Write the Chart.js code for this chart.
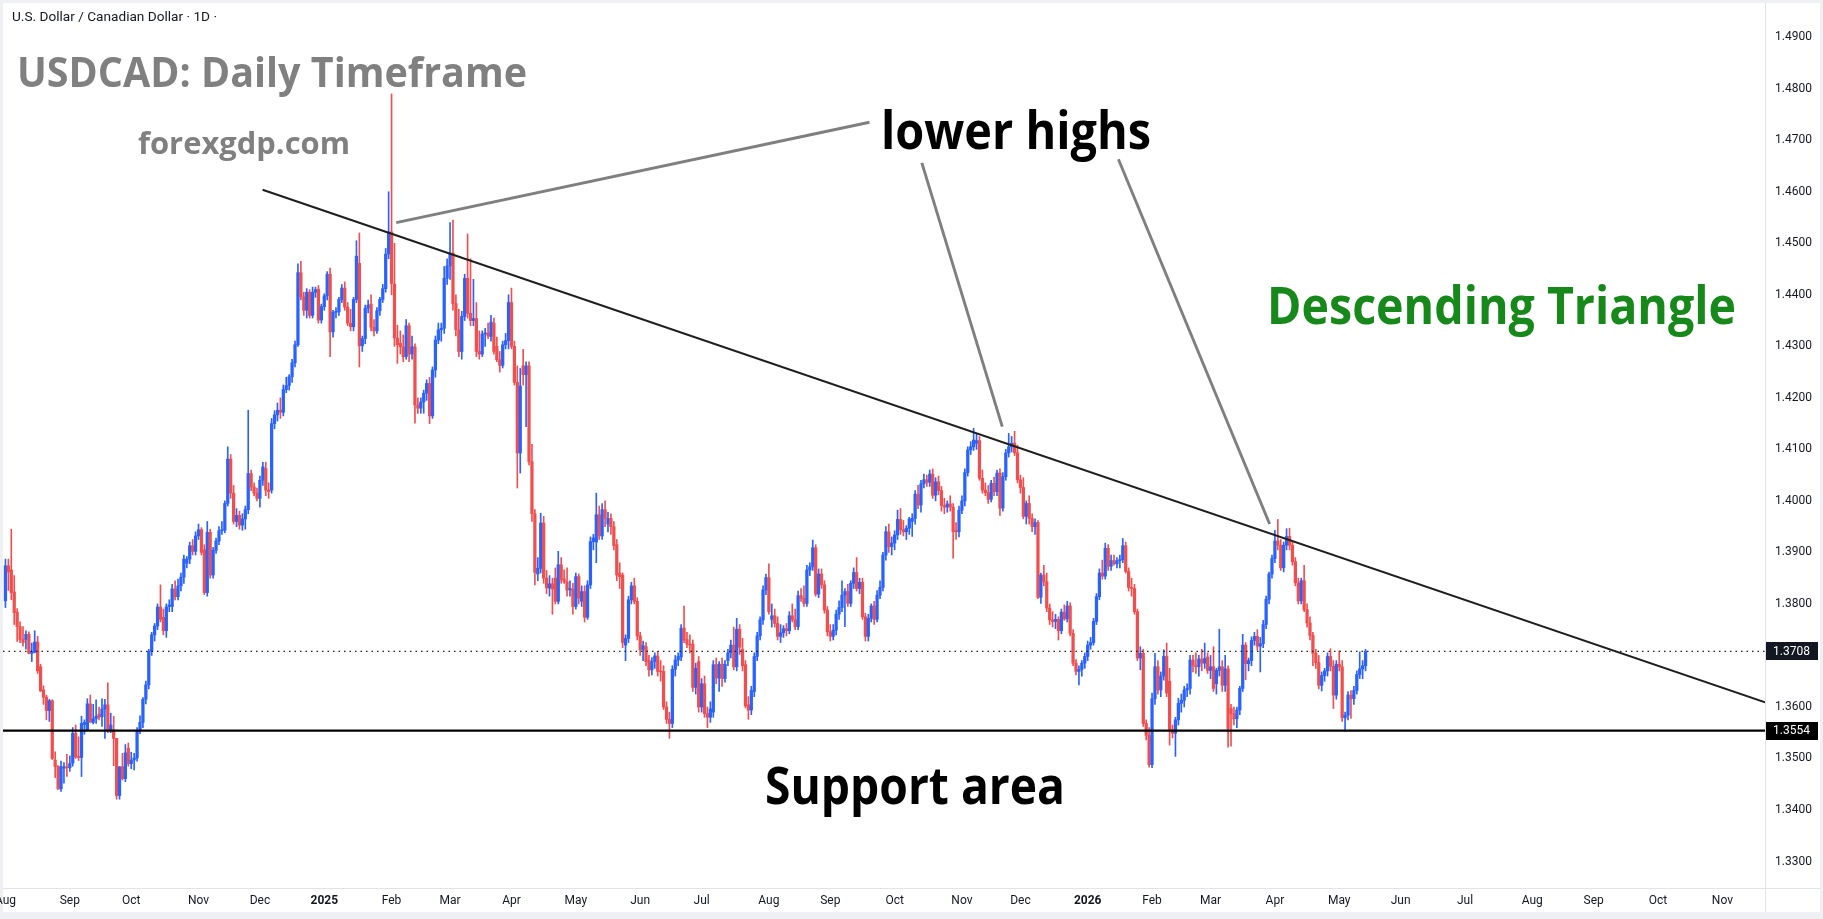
<!DOCTYPE html>
<html><head><meta charset="utf-8">
<script src="https://cdn.jsdelivr.net/npm/chart.js@4.4.1/dist/chart.umd.min.js"></script>
<style>html,body{margin:0;padding:0;background:#fff;overflow:hidden}#wrap{width:1823px;height:919px;position:relative}canvas{display:block}</style>
</head><body><div id="wrap"><canvas id="c" width="1823" height="919"></canvas></div>
<script>
// Daily candles [open, high, low, close] in pips: 3806 means 1.3806
const aug24 = [[3806,3887,3793,3874],[3874,3887,3826,3862],[3866,3945,3808,3822],[3823,3855,3760,3783],[3784,3791,3727,3756],[3756,3765,3725,3731],[3731,3756,3718,3725],[3731,3748,3712,3741],[3741,3746,3703,3704],[3704,3724,3688,3708],[3706,3748,3705,3726],[3726,3737,3665,3670],[3678,3683,3630,3631],[3633,3641,3605,3619],[3619,3623,3575,3593],[3593,3615,3572,3612],[3612,3614,3498,3500],[3497,3513,3463,3484],[3485,3486,3440,3441],[3441,3495,3436,3484],[3481,3492,3452,3484],[3484,3508,3465,3482]];
const sep24 = [[3482,3505,3475,3490],[3491,3560,3485,3549],[3549,3565,3500,3503],[3503,3542,3496,3502],[3502,3582,3465,3568],[3566,3575,3547,3570],[3555,3616,3555,3606],[3606,3623,3572,3570],[3570,3605,3567,3577],[3577,3614,3568,3582],[3586,3600,3575,3580],[3581,3616,3562,3596],[3596,3615,3539,3604],[3604,3647,3550,3555],[3555,3588,3550,3565],[3555,3582,3486,3539],[3539,3539,3421,3428],[3428,3484,3421,3484],[3484,3510,3458,3461],[3461,3527,3455,3511],[3520,3530,3485,3490]];
const oct24 = [[3490,3512,3480,3497],[3497,3510,3478,3501],[3501,3560,3495,3554],[3554,3583,3548,3570],[3570,3618,3560,3615],[3615,3650,3606,3643],[3643,3712,3635,3708],[3708,3745,3700,3740],[3740,3762,3728,3757],[3757,3800,3750,3794],[3794,3837,3765,3770],[3774,3790,3740,3748],[3748,3800,3735,3794],[3795,3808,3785,3798],[3795,3838,3785,3829],[3829,3845,3808,3814],[3814,3848,3808,3835],[3835,3860,3825,3852],[3852,3895,3840,3887],[3879,3892,3870,3887],[3887,3920,3878,3913],[3913,3925,3895,3902],[3902,3940,3895,3932]];
const nov24 = [[3932,3955,3925,3944],[3944,3948,3895,3900],[3905,3915,3818,3822],[3822,3960,3815,3939],[3939,3945,3850,3856],[3856,3910,3850,3904],[3904,3928,3898,3922],[3922,3950,3915,3942],[3942,3960,3935,3944],[3943,4000,3938,3995],[3995,4105,3990,4081],[4081,4090,4005,4015],[4015,4030,3955,3960],[3960,3985,3950,3972],[3972,3980,3945,3953],[3953,3975,3943,3965],[3965,3990,3945,3983],[3983,4176,3975,4053],[4053,4060,4020,4027],[4027,4035,4010,4015],[4015,4025,4000,4005]];
const dec24 = [[4005,4048,3988,4040],[4040,4075,4030,4066],[4063,4075,4010,4021],[4021,4035,4005,4018],[4021,4160,4015,4150],[4150,4175,4140,4167],[4167,4190,4155,4176],[4176,4200,4160,4172],[4172,4225,4165,4216],[4216,4240,4210,4224],[4224,4245,4215,4241],[4241,4275,4230,4268],[4268,4310,4260,4303],[4303,4460,4300,4443],[4443,4465,4390,4396],[4396,4405,4360,4370],[4370,4412,4355,4405],[4405,4410,4355,4360],[4360,4415,4355,4405],[4405,4415,4395,4410],[4411,4418,4345,4351],[4351,4382,4345,4377]];
const jan25 = [[4377,4402,4370,4398],[4398,4445,4390,4440],[4440,4452,4280,4328],[4328,4370,4318,4366],[4366,4375,4355,4368],[4367,4395,4360,4391],[4391,4420,4385,4413],[4413,4425,4370,4376],[4376,4385,4340,4345],[4345,4372,4330,4338],[4338,4395,4330,4391],[4391,4505,4385,4475],[4461,4520,4260,4301],[4301,4320,4290,4315],[4315,4380,4305,4374],[4374,4390,4365,4380],[4382,4400,4330,4337],[4337,4352,4320,4330],[4330,4375,4325,4369],[4369,4395,4360,4391],[4391,4420,4385,4412],[4412,4490,4405,4479],[4479,4600,4470,4522]];
const feb25 = [[4522,4790,4400,4422],[4421,4500,4300,4316],[4316,4341,4267,4303],[4306,4330,4285,4299],[4299,4322,4270,4280],[4280,4352,4275,4340],[4340,4345,4270,4285],[4285,4320,4275,4299],[4299,4305,4151,4186],[4186,4200,4170,4180],[4180,4200,4170,4192],[4192,4215,4170,4209],[4209,4235,4195,4228],[4228,4240,4150,4165],[4165,4260,4160,4254],[4254,4320,4240,4312],[4312,4345,4305,4332],[4332,4345,4310,4335],[4335,4455,4325,4432],[4432,4470,4420,4456]];
const mar25 = [[4456,4540,4430,4481],[4481,4545,4370,4383],[4383,4400,4320,4332],[4332,4372,4280,4290],[4290,4368,4275,4358],[4358,4440,4350,4432],[4432,4518,4355,4364],[4364,4470,4340,4350],[4350,4430,4340,4354],[4354,4385,4280,4290],[4290,4330,4275,4285],[4285,4330,4280,4324],[4324,4335,4300,4326],[4326,4345,4315,4320],[4319,4360,4310,4347],[4345,4355,4285,4290],[4300,4318,4270,4274],[4274,4290,4250,4263],[4263,4310,4258,4303],[4303,4325,4295,4311],[4311,4400,4295,4385]];
const apr25 = [[4385,4413,4295,4300],[4300,4310,4225,4230],[4230,4262,4025,4093],[4093,4257,4054,4223],[4262,4294,4225,4245],[4245,4270,4144,4262],[4262,4270,4070,4076],[4076,4110,3960,3975],[3975,3983,3837,3861],[3858,3890,3845,3869],[3869,3976,3860,3957],[3957,3970,3840,3850],[3850,3865,3820,3831],[3831,3855,3815,3839],[3839,3850,3780,3829],[3850,3870,3800,3805],[3805,3902,3800,3876],[3876,3890,3840,3847],[3849,3866,3840,3843],[3843,3870,3815,3827],[3827,3845,3815,3830],[3829,3840,3780,3795]];
const may25 = [[3795,3860,3790,3853],[3853,3858,3800,3811],[3805,3835,3795,3824],[3824,3835,3765,3774],[3774,3845,3770,3837],[3837,3930,3830,3921],[3921,3935,3905,3928],[3920,4015,3880,3973],[3973,3990,3925,3932],[3932,3995,3925,3983],[3983,4000,3950,3966],[3955,3978,3940,3966],[3966,3975,3935,3950],[3950,3960,3905,3913],[3915,3925,3845,3856],[3860,3880,3830,3853],[3856,3860,3715,3725],[3720,3740,3690,3733],[3733,3815,3725,3808],[3808,3842,3800,3835],[3835,3850,3800,3805],[3805,3812,3730,3738]];
const jun25 = [[3738,3745,3700,3711],[3711,3728,3690,3719],[3717,3725,3680,3688],[3691,3700,3660,3672],[3672,3696,3662,3688],[3688,3705,3675,3699],[3699,3708,3660,3669],[3670,3690,3650,3668],[3669,3680,3595,3600],[3600,3610,3568,3576],[3576,3590,3539,3568],[3568,3680,3560,3673],[3673,3700,3660,3691],[3691,3705,3680,3698],[3697,3760,3690,3753],[3753,3796,3725,3730],[3731,3745,3715,3722],[3722,3740,3705,3720],[3722,3730,3630,3638],[3638,3685,3625,3675],[3688,3698,3590,3600]];
const jul25 = [[3600,3655,3590,3645],[3645,3660,3580,3587],[3587,3600,3560,3580],[3580,3610,3570,3596],[3590,3690,3580,3682],[3682,3695,3645,3656],[3656,3688,3630,3683],[3683,3695,3640,3655],[3655,3690,3648,3683],[3690,3712,3680,3705],[3705,3730,3695,3720],[3720,3755,3672,3678],[3678,3772,3670,3751],[3751,3760,3702,3716],[3712,3733,3670,3680],[3682,3690,3598,3602],[3604,3620,3576,3594],[3594,3640,3585,3632],[3630,3705,3620,3698],[3698,3745,3690,3738],[3738,3775,3730,3769],[3769,3835,3760,3827],[3827,3858,3818,3851]];
const aug25 = [[3851,3878,3780,3785],[3770,3800,3755,3777],[3777,3790,3755,3762],[3762,3775,3730,3737],[3737,3760,3725,3744],[3744,3758,3735,3752],[3752,3762,3738,3748],[3748,3785,3742,3777],[3777,3800,3765,3769],[3769,3790,3750,3756],[3756,3825,3750,3816],[3816,3830,3805,3811],[3811,3835,3795,3801],[3801,3875,3795,3866],[3866,3880,3855,3872],[3872,3924,3865,3909],[3909,3915,3815,3819],[3819,3868,3812,3858],[3858,3868,3830,3837],[3837,3845,3782,3788],[3788,3795,3738,3746]];
const sep25 = [[3746,3760,3728,3737],[3737,3760,3730,3749],[3749,3788,3740,3780],[3780,3806,3770,3793],[3793,3845,3785,3817],[3817,3830,3756,3824],[3824,3838,3795,3801],[3801,3845,3795,3840],[3840,3870,3830,3861],[3861,3890,3825,3830],[3830,3850,3820,3842],[3842,3850,3770,3775],[3775,3782,3728,3737],[3737,3780,3728,3772],[3772,3800,3765,3796],[3796,3805,3760,3770],[3770,3826,3765,3817],[3817,3845,3810,3832],[3832,3900,3825,3895],[3895,3950,3885,3940],[3940,3955,3900,3911],[3911,3930,3895,3918]];
const oct25 = [[3918,3942,3905,3934],[3934,3982,3925,3964],[3964,3985,3935,3944],[3944,3962,3932,3940],[3940,3952,3925,3947],[3947,3968,3935,3965],[3960,3975,3931,3966],[3966,4020,3955,4013],[4013,4030,3985,3992],[3992,4040,3978,4033],[4033,4052,4025,4041],[4041,4050,4028,4036],[4036,4060,4028,4052],[4052,4062,4005,4011],[4011,4045,4000,4037],[4037,4048,4012,4020],[4020,4028,3980,3991],[3991,4005,3975,3988],[3988,4000,3978,3994],[3994,4010,3980,3988],[3988,3995,3889,3940],[3943,3958,3925,3940],[3940,3990,3930,3982]];
const nov25 = [[3982,4010,3975,4000],[4000,4062,3990,4055],[4055,4105,4048,4099],[4099,4115,4090,4105],[4105,4141,4098,4118],[4112,4130,4100,4117],[4117,4125,4040,4044],[4044,4060,4015,4021],[4021,4035,4010,4016],[4016,4030,3995,4003],[4003,4040,3998,4034],[4034,4046,4010,4018],[4018,4060,4010,4054],[4054,4062,3972,3986],[3986,4055,3980,4047],[4047,4100,4040,4093],[4093,4131,4085,4105],[4105,4125,4095,4112],[4112,4135,4088,4093],[4093,4108,4035,4041]];
const dec25 = [[4041,4050,4015,4026],[4026,4045,3965,3970],[3970,4000,3955,3995],[3995,4010,3955,3966],[3966,3975,3940,3950],[3950,3965,3935,3958],[3958,3962,3810,3813],[3813,3860,3801,3856],[3856,3875,3835,3843],[3843,3860,3785,3792],[3792,3800,3760,3769],[3769,3785,3755,3766],[3766,3780,3752,3770],[3770,3775,3730,3748],[3748,3790,3742,3784],[3784,3798,3768,3771],[3771,3805,3765,3796],[3796,3802,3738,3743],[3743,3750,3680,3685],[3685,3692,3662,3669],[3669,3680,3643,3673],[3673,3690,3660,3685],[3685,3705,3675,3698]];
const jan26 = [[3698,3728,3690,3720],[3720,3735,3712,3725],[3725,3772,3720,3766],[3766,3820,3760,3814],[3814,3868,3808,3860],[3860,3885,3848,3854],[3854,3918,3848,3908],[3908,3915,3865,3873],[3873,3895,3865,3884],[3884,3895,3875,3878],[3878,3890,3870,3884],[3884,3895,3870,3886],[3886,3927,3880,3913],[3913,3920,3860,3863],[3863,3870,3825,3832],[3832,3850,3815,3830],[3830,3838,3780,3785],[3785,3790,3690,3695],[3695,3717,3672,3704],[3704,3712,3562,3568],[3568,3575,3536,3545],[3545,3560,3483,3488]];
const feb26 = [[3488,3627,3482,3616],[3616,3704,3605,3678],[3678,3690,3625,3633],[3633,3668,3620,3660],[3660,3711,3652,3698],[3698,3724,3620,3627],[3650,3675,3526,3555],[3555,3565,3540,3549],[3549,3580,3504,3575],[3575,3617,3565,3607],[3607,3625,3590,3613],[3613,3640,3600,3633],[3633,3645,3620,3636],[3636,3700,3625,3691],[3691,3700,3668,3680],[3680,3705,3665,3678],[3678,3700,3660,3693],[3693,3712,3670,3685],[3685,3724,3675,3694],[3697,3705,3665,3671]];
const mar26 = [[3671,3700,3655,3678],[3678,3717,3630,3636],[3645,3675,3625,3671],[3671,3751,3660,3678],[3678,3690,3630,3642],[3642,3700,3630,3674],[3674,3680,3522,3558],[3597,3605,3524,3587],[3587,3600,3565,3577],[3577,3600,3560,3594],[3594,3640,3585,3636],[3636,3741,3630,3720],[3720,3725,3653,3684],[3684,3695,3670,3690],[3690,3736,3680,3729],[3729,3745,3720,3737],[3737,3750,3710,3718],[3718,3735,3668,3723],[3723,3768,3715,3760],[3760,3815,3752,3809],[3809,3862,3800,3858],[3858,3895,3850,3888]];
const apr26 = [[3888,3943,3880,3922],[3922,3964,3905,3914],[3914,3925,3865,3870],[3870,3920,3862,3914],[3914,3946,3905,3931],[3931,3947,3905,3914],[3914,3920,3875,3882],[3882,3890,3835,3841],[3841,3850,3800,3806],[3806,3850,3800,3845],[3845,3875,3785,3789],[3789,3800,3755,3763],[3763,3775,3730,3739],[3739,3745,3680,3704],[3704,3712,3675,3686],[3686,3700,3635,3642],[3642,3668,3631,3661],[3661,3675,3650,3670],[3670,3705,3660,3698],[3698,3713,3670,3679],[3679,3690,3597,3623],[3623,3690,3615,3683]];
const may26 = [[3683,3709,3670,3678],[3678,3690,3572,3579],[3579,3590,3552,3584],[3584,3630,3575,3623],[3623,3632,3578,3616],[3616,3640,3605,3632],[3632,3670,3625,3663],[3663,3707,3655,3674],[3674,3690,3655,3680],[3680,3712,3670,3708]];

// x-axis month labels and the bar index of each month's first trading day
const monthLabels = ["Aug","Sep","Oct","Nov","Dec","2025","Feb","Mar","Apr","May","Jun","Jul","Aug","Sep","Oct","Nov","Dec","2026","Feb","Mar","Apr","May","Jun","Jul","Aug","Sep","Oct","Nov"];
const monthStartIdx = [0,22,43,66,87,109,132,152,173,195,217,238,261,282,304,327,347,370,392,412,434,456,477,499,522,543,565,587];
const yearLabels = ["2025","2026"];
const priceTicks = [1.33,1.34,1.35,1.36,1.37,1.38,1.39,1.40,1.41,1.42,1.43,1.44,1.45,1.46,1.47,1.48,1.49];

// drawn analysis (bar index, price)
const trendIdx = [87.9, 601.6];
const trendPrice = [1.4604, 1.3609];
const pointerIdx = [[133.6, 295.4], [313.3, 340.8], [380.5, 432.2]];
const pointerPrice = [[1.4540, 1.4735], [1.4656, 1.4144], [1.4663, 1.3955]];
const supportPrice = 1.3554;
const lastPriceLabel = "1.3708";
const supportLabel = "1.3554";

const allCandles = [].concat(aug24,sep24,oct24,nov24,dec24,jan25,feb25,mar25,apr25,may25,jun25,jul25,aug25,sep25,oct25,nov25,dec25,jan26,feb26,mar26,apr26,may26);
const toP = v => 1 + v / 10000;
const UP = '#2962ff', DOWN = '#f04f4f';
const colorOf = i => (allCandles[i][3] >= allCandles[i][0] ? UP : DOWN);
const lastClose = toP(allCandles[allCandles.length - 1][3]);

const wickData = allCandles.map((c, i) => ({x: i, y: [toP(c[2]), toP(c[1])]}));
const bodyData = allCandles.map((c, i) => ({x: i, y: [toP(c[0]), toP(c[3])]}));

const W = 1823, H = 919;
const AXIS_W = 55, XAXIS_H = 24;

function fitText(ctx, txt, x, baseline, font, color, targetW) {
  ctx.save();
  ctx.font = font; ctx.fillStyle = color; ctx.textAlign = 'left'; ctx.textBaseline = 'alphabetic';
  const w = ctx.measureText(txt).width;
  ctx.translate(x, baseline);
  ctx.scale(targetW / w, 1);
  ctx.fillText(txt, 0, 0);
  ctx.restore();
}

const bgPlugin = {
  id: 'bg',
  beforeDraw(chart) {
    const ctx = chart.ctx;
    ctx.save();
    ctx.fillStyle = '#eef0f3'; ctx.fillRect(0, 0, W, H);
    ctx.fillStyle = '#ffffff'; ctx.fillRect(3, 3, W - 6, H - 10);
    ctx.restore();
  }
};

const overlayPlugin = {
  id: 'overlay',
  afterDraw(chart) {
    const ctx = chart.ctx, xs = chart.scales.x, ys = chart.scales.y, a = chart.chartArea;
    const px = v => xs.getPixelForValue(v), py = v => ys.getPixelForValue(v);
    ctx.save();
    // frame lines
    ctx.strokeStyle = '#e0e3eb'; ctx.lineWidth = 1;
    ctx.beginPath(); ctx.moveTo(a.right + 0.5, 3); ctx.lineTo(a.right + 0.5, H - 7); ctx.stroke();
    ctx.beginPath(); ctx.moveTo(3, a.bottom + 0.5); ctx.lineTo(W - 3, a.bottom + 0.5); ctx.stroke();

    ctx.save();
    ctx.beginPath(); ctx.rect(a.left, a.top, a.right - a.left, a.bottom - a.top); ctx.clip();
    // last price dotted line
    ctx.strokeStyle = '#222'; ctx.lineWidth = 1.3; ctx.setLineDash([1.5, 4]);
    ctx.beginPath(); ctx.moveTo(a.left, py(lastClose)); ctx.lineTo(a.right, py(lastClose)); ctx.stroke();
    ctx.setLineDash([]);
    // support line
    ctx.strokeStyle = '#000'; ctx.lineWidth = 2.3;
    ctx.beginPath(); ctx.moveTo(a.left, py(supportPrice)); ctx.lineTo(a.right, py(supportPrice)); ctx.stroke();
    // trendline
    ctx.strokeStyle = '#1e1e1e'; ctx.lineWidth = 2;
    ctx.beginPath(); ctx.moveTo(px(trendIdx[0]), py(trendPrice[0])); ctx.lineTo(px(trendIdx[1]), py(trendPrice[1])); ctx.stroke();
    // pointer lines
    ctx.strokeStyle = '#7f7f7f'; ctx.lineWidth = 2.9;
    for (let k = 0; k < pointerIdx.length; k++) {
      ctx.beginPath();
      ctx.moveTo(px(pointerIdx[k][0]), py(pointerPrice[k][0]));
      ctx.lineTo(px(pointerIdx[k][1]), py(pointerPrice[k][1]));
      ctx.stroke();
    }
    ctx.restore();

    // header and texts
    fitText(ctx, 'U.S. Dollar / Canadian Dollar · 1D ·', 12, 21, '13px Roboto', '#131722', 205);
    fitText(ctx, 'USDCAD: Daily Timeframe', 17, 87, 'bold 42px "Open Sans"', '#808080', 510);
    fitText(ctx, 'forexgdp.com', 138, 154, 'bold 31px "Open Sans"', '#808080', 212);
    fitText(ctx, 'lower highs', 881, 149, 'bold 52px "Open Sans"', '#000000', 270);
    fitText(ctx, 'Descending Triangle', 1267, 324, 'bold 52px "Open Sans"', '#17891a', 469);
    fitText(ctx, 'Support area', 765, 804, 'bold 52px "Open Sans"', '#000000', 300);

    // price labels on axis
    const box = (label, price, bg) => {
      const y = py(price);
      ctx.fillStyle = bg; ctx.fillRect(a.right + 1, Math.round(y - 9), 52, 18);
      ctx.fillStyle = '#fff'; ctx.font = '12px Roboto'; ctx.textAlign = 'left'; ctx.textBaseline = 'middle';
      ctx.fillText(label, a.right + 8, y + 0.5);
    };
    box(lastPriceLabel, lastClose, '#131722');
    box(supportLabel, supportPrice, '#000000');
    ctx.restore();
  }
};

new Chart(document.getElementById('c'), {
  type: 'bar',
  data: {
    datasets: [
      { label: 'wick', data: wickData, backgroundColor: c => colorOf(c.dataIndex), barThickness: 1, grouped: false, order: 2, borderWidth: 0 },
      { label: 'body', data: bodyData, backgroundColor: c => colorOf(c.dataIndex), barThickness: 2.6, minBarLength: 1, grouped: false, order: 1, borderWidth: 0 }
    ]
  },
  options: {
    responsive: false, animation: false, events: [],
    layout: { padding: { left: 3, top: 3, right: 3, bottom: 919 - 888 - XAXIS_H } },
    plugins: { legend: { display: false }, tooltip: { enabled: false } },
    scales: {
      x: {
        type: 'linear', offset: false,
        min: -0.838, max: 601.56,
        grid: { display: false, drawTicks: false, offset: false }, border: { display: false },
        afterFit: s => { s.height = XAXIS_H; s.paddingLeft = 0; s.paddingRight = 0; },
        afterBuildTicks: s => { s.ticks = monthStartIdx.map(v => ({ value: v })); },
        ticks: {
          autoSkip: false, maxRotation: 0, padding: 6, color: '#131722',
          callback: v => monthLabels[monthStartIdx.indexOf(v)],
          font: c => ({ family: 'Roboto', size: 12, weight: (c.tick && yearLabels.includes(monthLabels[monthStartIdx.indexOf(c.tick.value)])) ? 'bold' : 'normal' })
        }
      },
      y: {
        type: 'linear', position: 'right',
        min: 1.32486, max: 1.49664,
        grid: { display: false, drawTicks: false }, border: { display: false },
        afterFit: s => { s.width = AXIS_W; s.paddingTop = 0; s.paddingBottom = 0; },
        afterBuildTicks: s => { s.ticks = priceTicks.map(v => ({ value: v })); },
        ticks: { autoSkip: false, padding: 10, color: '#131722', font: { family: 'Roboto', size: 12 }, crossAlign: 'near',
          callback: v => v.toFixed(4) }
      }
    }
  },
  plugins: [bgPlugin, overlayPlugin]
});
</script>
</body></html>
